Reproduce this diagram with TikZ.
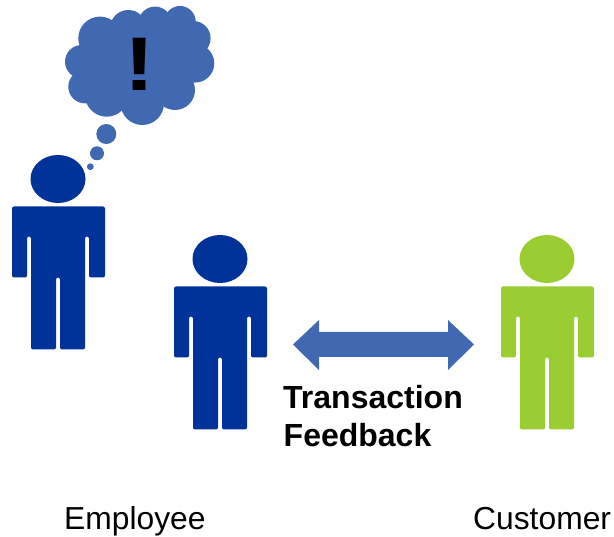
\documentclass[tikz,border=0pt]{standalone}
\usepackage{fontspec}
\setmainfont{Liberation Sans}
\definecolor{darkblue}{HTML}{003399}
\definecolor{midblue}{HTML}{4169B2}
\definecolor{leaf}{HTML}{9ACD32}
\tikzset{
  person/.pic={
    \fill[pic actions] (46,-.5) ellipse [x radius=27.5, y radius=24];
    \fill[pic actions, rounded corners=2pt]
      (0,27) -- (93,27) -- (93,98) -- (77,98) -- (77,57) -- (73,57) -- (73,170)
      -- (48,170) -- (48,98) -- (44,98) -- (44,170) -- (19,170) -- (19,57)
      -- (15,57) -- (15,98) -- (0,98) -- cycle;
  },
  txt/.style={anchor=base west, inner sep=0pt, font=\fontsize{31.8}{36}\selectfont, text=black},
  boldtxt/.style={txt, font=\fontsize{32}{36}\selectfont\bfseries},
  puff/.style={fill=midblue}
}
\begin{document}
\begin{tikzpicture}[x=1pt,y=-1pt]
\useasboundingbox (0,0) rectangle (614,537);
% thought cloud (union of circles, coordinates in px)
\foreach \cx/\cy/\r in {100/38.3/21.7, 128.3/28.3/18.3, 155/23.3/16.7, 180/21.7/15.7,
  193.3/38.3/17.3, 195/63.3/19.3, 175/90/20, 142.3/103.3/21.7, 106.7/95/21.7,
  85/86.7/16.7, 81.7/61.7/16.7}
  {\fill[puff] (\cx,\cy) circle [radius=\r];}
\fill[puff] (140,63.3) ellipse [x radius=56, y radius=44];
\fill[puff] (106.3,134) circle [radius=10];
\fill[puff] (97,153.3) circle [radius=7];
\fill[puff] (90.3,166.7) circle [radius=3.4];
\node[anchor=base, inner sep=0pt, font=\fontsize{76}{80}\selectfont\bfseries] (mark) at (140,91) {\scalebox{1.2}[1]{!}};
% people
\pic[fill=darkblue] (employeeA) at (12,179.5) {person};
\pic[fill=darkblue] (employeeB) at (174,259.5) {person};
\pic[fill=leaf] (customer) at (501,259.5) {person};
% double arrow
\fill[midblue] (293,344.5) -- (319,320) -- (319,332) -- (448,332) -- (448,320) -- (474,344.5)
  -- (448,370) -- (448,357) -- (319,357) -- (319,370) -- cycle;
% labels
\node[boldtxt] (transaction) at (283,408.5) {Transaction};
\node[boldtxt] (feedback) at (283.5,446.5) {Feedback};
\node[txt] (employee) at (64,530) {Employee};
\node[txt] (cust) at (473,530) {Customer};
\end{tikzpicture}
\end{document}
